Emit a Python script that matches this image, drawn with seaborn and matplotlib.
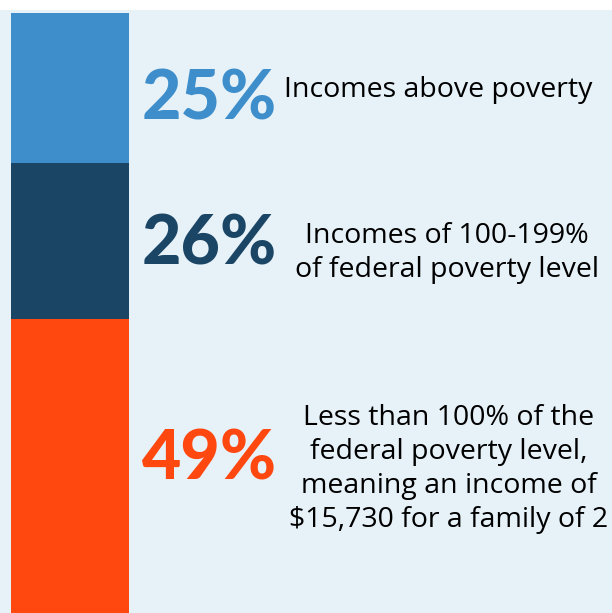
import matplotlib
matplotlib.use('Agg')
import matplotlib.pyplot as plt
import seaborn as sns
import pandas as pd

# data
groups = ['Below 100% FPL', '100-199% FPL', 'Above poverty']
shares = [49, 26, 25]
colors = ['#ff4710', '#1b4565', '#3d8ecb']
pct_labels = ['49%', '26%', '25%']
descriptions = [
    'Less than 100% of the\nfederal poverty level,\nmeaning an income of\n$15,730 for a family of 2',
    'Incomes of 100-199%\nof federal poverty level',
    'Incomes above poverty',
]

W, H = 612, 613
bg = '#e6f1f8'

sns.set_style('white')
plt.rcParams['font.family'] = ['Lato', 'DejaVu Sans']

fig = plt.figure(figsize=(W / 100, H / 100), dpi=100)
fig.patch.set_facecolor(bg)

# white strip along the top
fig.patches.append(plt.Rectangle((0, 1 - 10 / H), 1, 10 / H, transform=fig.transFigure,
                                 facecolor='white', edgecolor='none', zorder=0))

# stacked bar on the left
ax = fig.add_axes([11 / W, 0, 118 / W, 600 / H])
df = pd.DataFrame({'group': groups, 'share': shares})
bottom = 0
for i, row in df.iterrows():
    sns.barplot(x=[0], y=[row['share']], bottom=bottom, color=colors[i],
                width=1.0, ax=ax, edgecolor='none', linewidth=0, saturation=1)
    bottom += row['share']
ax.set_xlim(-0.5, 0.5)
ax.set_ylim(0, sum(shares))
ax.axis('off')

# labels
pct_y = [460, 245, 100]
desc_x = [449, 447, 438]
desc_y = [469, 253, 90]
for i in range(len(groups)):
    fig.text(277 / W, 1 - pct_y[i] / H, pct_labels[i], color=colors[i],
             fontsize=49, fontweight='black', ha='right', va='center')
    fig.text(desc_x[i] / W, 1 - desc_y[i] / H, descriptions[i], color='black',
             fontsize=20.5, family=['Open Sans', 'DejaVu Sans'],
             ha='center', va='center', linespacing=1.3)

fig.savefig('out.png', dpi=100, facecolor=fig.get_facecolor())
